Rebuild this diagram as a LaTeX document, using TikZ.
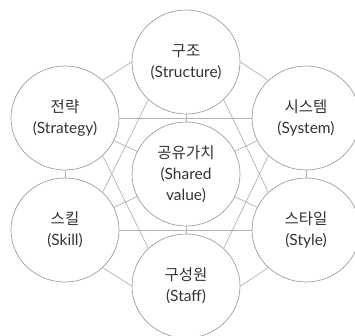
\documentclass[tikz,border=0pt]{standalone}
\usepackage{fontspec}
\setmainfont{Lato}
\newfontfamily\kr{Noto Sans CJK KR}
\usetikzlibrary{shapes.geometric}

\begin{document}
\begin{tikzpicture}[x=1pt,y=-1pt,
        elem/.style={ellipse, draw=gray!75, fill=white, line width=0.7pt,
            minimum width=108pt, minimum height=104pt, inner sep=0pt,
            align=center, text=black!80, font=\fontsize{15.5}{21}\selectfont},
        link/.style={draw=gray!60, line width=0.7pt}]
                \useasboundingbox (0,0) rectangle (355,335);
                \node [elem] (structure) at (186,62) {{\kr 구조}\\(Structure)};
                \node [elem] (strategy) at (65,118) {{\kr 전략}\\(Strategy)};
                \node [elem] (system) at (306,118) {{\kr 시스템}\\(System)};
                \node [elem] (shared) at (186,174) {{\kr 공유가치}\\(Shared\\value)};
                \node [elem] (skill) at (65,230) {{\kr 스킬}\\(Skill)};
                \node [elem] (style) at (306,230) {{\kr 스타일}\\(Style)};
                \node [elem] (staff) at (186,286) {{\kr 구성원}\\(Staff)};
                % outer ring
                \draw [link] (strategy.45) -- (structure.180);
                \draw [link] (structure.0) -- (system.135);
                \draw [link] (strategy.south) -- (skill.north);
                \draw [link] (system.south) -- (style.north);
                \draw [link] (skill.-45) -- (staff.180);
                \draw [link] (staff.0) -- (style.-135);
                % spokes to the centre
                \draw [link] (structure) -- (shared);
                \draw [link] (strategy) -- (shared);
                \draw [link] (system) -- (shared);
                \draw [link] (skill) -- (shared);
                \draw [link] (style) -- (shared);
                \draw [link] (staff) -- (shared);
                % two triangles
                \draw [link] (strategy) -- (system);
                \draw [link] (skill) -- (style);
                \draw [link] (structure.-135) -- (skill.45);
                \draw [link] (structure.-45) -- (style.135);
                \draw [link] (strategy.-45) -- (staff.135);
                \draw [link] (system.-135) -- (staff.45);
            \end{tikzpicture}
\end{document}
